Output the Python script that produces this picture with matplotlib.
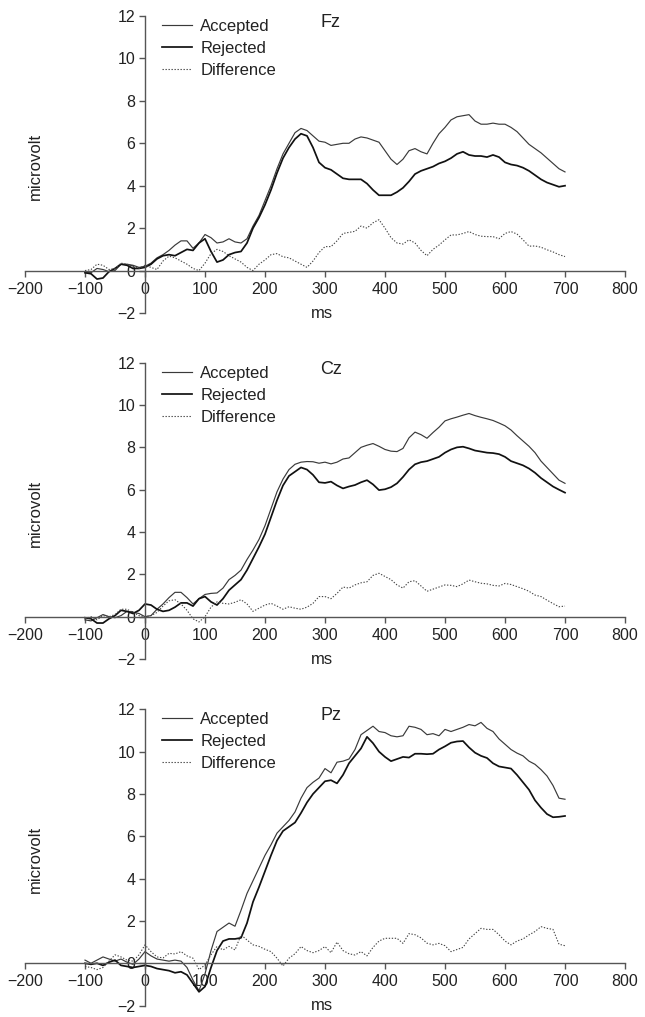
import numpy as np
import matplotlib
matplotlib.use("Agg")
import matplotlib.pyplot as plt

plt.rcParams['font.family'] = ['Liberation Sans', 'DejaVu Sans']

ms = list(range(-100, 701, 10))

fz_accepted = [-0.1, -0.1, 0.1, 0.05, -0.05, 0.0, 0.3, 0.3, 0.25, 0.15,
               0.2, 0.35, 0.6, 0.75, 0.95, 1.2, 1.4, 1.4, 1.05, 1.3,
               1.7, 1.55, 1.3, 1.35, 1.5, 1.35, 1.3, 1.5, 2.1, 2.6,
               3.3, 4.0, 4.8, 5.5, 6.0, 6.5, 6.7, 6.6, 6.35, 6.1,
               6.05, 5.9, 5.95, 6.0, 6.0, 6.2, 6.3, 6.25, 6.15, 6.05,
               5.65, 5.25, 5.0, 5.25, 5.65, 5.75, 5.6, 5.5, 6.0, 6.45,
               6.75, 7.1, 7.25, 7.3, 7.35, 7.05, 6.9, 6.9, 6.95, 6.9,
               6.9, 6.75, 6.55, 6.25, 5.95, 5.75, 5.55, 5.3, 5.05, 4.8,
               4.65]
fz_rejected = [-0.1, -0.15, -0.4, -0.35, -0.05, 0.1, 0.3, 0.25, 0.1, 0.1,
               0.15, 0.3, 0.55, 0.7, 0.75, 0.7, 0.85, 1.0, 0.95, 1.3,
               1.5, 0.9, 0.4, 0.5, 0.75, 0.85, 0.9, 1.3, 2.0, 2.5,
               3.1, 3.8, 4.6, 5.3, 5.8, 6.2, 6.45, 6.35, 5.8, 5.1,
               4.85, 4.75, 4.55, 4.35, 4.3, 4.3, 4.3, 4.1, 3.8, 3.55,
               3.55, 3.55, 3.7, 3.9, 4.2, 4.55, 4.7, 4.8, 4.9, 5.05,
               5.15, 5.3, 5.5, 5.6, 5.45, 5.4, 5.4, 5.35, 5.45, 5.35,
               5.1, 5.0, 4.95, 4.85, 4.7, 4.5, 4.3, 4.15, 4.05, 3.95,
               4.0]
fz_difference = [0.0, 0.05, 0.3, 0.25, 0.05, 0.1, 0.35, 0.3, 0.2, 0.1,
                 0.25, 0.15, 0.05, 0.45, 0.68, 0.6, 0.45, 0.3, 0.1, 0.0,
                 0.35, 0.8, 1.0, 0.9, 0.7, 0.55, 0.4, 0.15, 0.0, 0.3,
                 0.5, 0.75, 0.8, 0.65, 0.6, 0.45, 0.3, 0.15, 0.45, 0.85,
                 1.13, 1.13, 1.4, 1.75, 1.8, 1.85, 2.1, 2.0, 2.25, 2.4,
                 2.0, 1.55, 1.3, 1.25, 1.45, 1.3, 0.95, 0.7, 1.0, 1.2,
                 1.45, 1.68, 1.68, 1.75, 1.84, 1.7, 1.62, 1.6, 1.6, 1.5,
                 1.75, 1.84, 1.72, 1.45, 1.15, 1.16, 1.1, 0.98, 0.88, 0.75,
                 0.66]

cz_accepted = [-0.15, -0.2, -0.05, 0.1, 0.0, -0.05, 0.05, 0.25, 0.2, 0.15,
               0.0, 0.05, 0.35, 0.6, 0.9, 1.15, 1.15, 0.9, 0.6, 0.85,
               1.05, 1.1, 1.12, 1.35, 1.75, 1.95, 2.2, 2.7, 3.15, 3.65,
               4.3, 5.1, 5.9, 6.5, 6.95, 7.2, 7.3, 7.33, 7.32, 7.25,
               7.3, 7.22, 7.3, 7.45, 7.5, 7.75, 8.0, 8.1, 8.18, 8.05,
               7.9, 7.82, 7.8, 7.95, 8.45, 8.72, 8.6, 8.43, 8.7, 8.95,
               9.25, 9.35, 9.43, 9.52, 9.6, 9.5, 9.42, 9.35, 9.27, 9.15,
               9.02, 8.82, 8.55, 8.3, 8.05, 7.75, 7.35, 7.05, 6.75, 6.45,
               6.3]
cz_rejected = [-0.05, -0.1, -0.3, -0.3, -0.1, 0.05, 0.3, 0.25, 0.15, 0.3,
               0.6, 0.55, 0.35, 0.25, 0.3, 0.45, 0.65, 0.65, 0.5, 0.85,
               0.95, 0.7, 0.55, 0.85, 1.25, 1.5, 1.75, 2.2, 2.75, 3.3,
               3.9, 4.7, 5.5, 6.2, 6.65, 6.85, 7.05, 6.95, 6.7, 6.35,
               6.32, 6.38, 6.2, 6.06, 6.15, 6.22, 6.35, 6.45, 6.25, 5.98,
               6.02, 6.12, 6.3, 6.6, 6.95, 7.2, 7.3, 7.35, 7.45, 7.55,
               7.75, 7.9, 8.0, 8.03, 7.95, 7.85, 7.8, 7.75, 7.73, 7.68,
               7.55, 7.35, 7.25, 7.15, 7.0, 6.8, 6.55, 6.35, 6.15, 6.0,
               5.86]
cz_difference = [-0.1, 0.0, -0.15, 0.05, 0.0, 0.1, 0.35, 0.35, 0.2, 0.05,
                 0.0, 0.05, 0.2, 0.5, 0.75, 0.8, 0.6, 0.3, -0.1, -0.25,
                 0.0, 0.45, 0.7, 0.63, 0.6, 0.68, 0.8, 0.6, 0.25, 0.4,
                 0.55, 0.63, 0.5, 0.35, 0.47, 0.4, 0.35, 0.45, 0.63, 0.95,
                 0.95, 0.85, 1.1, 1.4, 1.35, 1.5, 1.6, 1.65, 1.95, 2.05,
                 1.9, 1.75, 1.5, 1.35, 1.65, 1.7, 1.45, 1.2, 1.3, 1.4,
                 1.5, 1.48, 1.42, 1.55, 1.73, 1.65, 1.58, 1.55, 1.48, 1.45,
                 1.57, 1.52, 1.42, 1.32, 1.2, 1.02, 0.95, 0.78, 0.62, 0.47,
                 0.5]

pz_accepted = [0.15, 0.0, 0.15, 0.3, 0.2, 0.1, 0.2, 0.05, -0.05, 0.2,
               0.55, 0.35, 0.2, 0.15, 0.1, 0.15, 0.1, -0.2, -0.8, -1.3,
               -0.5, 0.6, 1.5, 1.7, 1.9, 1.75, 2.5, 3.3, 3.9, 4.5,
               5.1, 5.6, 6.15, 6.45, 6.75, 7.15, 7.8, 8.3, 8.55, 8.75,
               9.2, 9.0, 9.5, 9.55, 9.65, 10.1, 10.8, 11.0, 11.2, 10.95,
               10.9, 10.75, 10.7, 10.75, 11.2, 11.15, 11.05, 10.8, 10.85, 10.75,
               11.05, 10.95, 11.05, 11.15, 11.28, 11.22, 11.38, 11.1, 10.95, 10.6,
               10.35, 10.1, 9.93, 9.8, 9.55, 9.4, 9.15, 8.85, 8.4, 7.8,
               7.75]
pz_rejected = [0.0, -0.05, 0.0, -0.1, 0.05, 0.15, -0.1, -0.15, -0.2, -0.15,
               -0.1, -0.15, -0.25, -0.3, -0.35, -0.45, -0.4, -0.55, -0.95, -1.35,
               -1.1, -0.2, 0.6, 1.05, 1.15, 1.15, 1.2, 1.9, 2.9, 3.6,
               4.35, 5.1, 5.8, 6.25, 6.45, 6.65, 7.1, 7.6, 8.0, 8.3,
               8.6, 8.65, 8.5, 8.9, 9.45, 9.8, 10.15, 10.7, 10.4, 10.0,
               9.75, 9.55, 9.65, 9.75, 9.72, 9.9, 9.9, 9.88, 9.9, 10.1,
               10.25, 10.42, 10.48, 10.5, 10.2, 9.95, 9.8, 9.7, 9.45, 9.3,
               9.25, 9.2, 8.9, 8.55, 8.2, 7.7, 7.35, 7.05, 6.9, 6.92,
               6.96]
pz_difference = [-0.15, -0.2, -0.3, -0.2, 0.1, 0.4, 0.3, 0.15, 0.1, 0.4,
                 0.87, 0.55, 0.3, 0.25, 0.47, 0.44, 0.55, 0.35, 0.24, -0.3,
                 -0.08, 0.4, 0.8, 0.63, 0.8, 0.63, 1.34, 1.1, 0.87, 0.8,
                 0.66, 0.55, 0.24, -0.13, 0.24, 0.45, 0.79, 0.6, 0.5, 0.6,
                 0.79, 0.5, 1.0, 0.6, 0.45, 0.39, 0.55, 0.35, 0.75, 1.05,
                 1.18, 1.18, 1.18, 0.94, 1.4, 1.35, 1.2, 0.95, 0.87, 0.94,
                 0.83, 0.55, 0.65, 0.75, 1.15, 1.4, 1.65, 1.6, 1.6, 1.35,
                 1.05, 0.87, 1.05, 1.15, 1.34, 1.5, 1.73, 1.65, 1.6, 0.9,
                 0.83]

electrodes = ["Fz", "Cz", "Pz"]
series_labels = ["Accepted", "Rejected", "Difference"]
x_ticks = [-200, -100, 0, 100, 200, 300, 400, 500, 600, 700, 800]
y_ticks = [-2, 0, 2, 4, 6, 8, 10, 12]

panels = [
    (fz_accepted, fz_rejected, fz_difference),
    (cz_accepted, cz_rejected, cz_difference),
    (pz_accepted, pz_rejected, pz_difference),
]

W, H = 645, 1017
fig = plt.figure(figsize=(W / 100, H / 100), dpi=100)

# axes pixel boxes: (top px of y=12, bottom px of y=-2)
boxes = [(16, 313), (362.7, 659), (709.3, 1005.6)]
left_px, right_px = 25, 625

text_color = "#222222"
axis_color = "#555555"

for (acc, rej, diff), name, (top, bot) in zip(panels, electrodes, boxes):
    ax = fig.add_axes([left_px / W, 1 - bot / H, (right_px - left_px) / W, (bot - top) / H])
    ax.set_xlim(-200, 800)
    ax.set_ylim(-2, 12)
    ax.spines['top'].set_visible(False)
    ax.spines['right'].set_visible(False)
    ax.spines['left'].set_position(('data', 0))
    ax.spines['bottom'].set_position(('data', 0))
    for s in ('left', 'bottom'):
        ax.spines[s].set_color(axis_color)
        ax.spines[s].set_linewidth(1.0)
    ax.set_xticks(x_ticks)
    ax.set_yticks(y_ticks)
    ax.tick_params(axis='both', direction='out', length=4, width=1.0,
                   color=axis_color, labelsize=11.5, labelcolor=text_color)
    ax.tick_params(axis='x', pad=4)
    ax.tick_params(axis='y', pad=3)

    l1, = ax.plot(ms, acc, color="#3a3a3a", lw=0.85, label=series_labels[0])
    l2, = ax.plot(ms, rej, color="#111111", lw=1.25, label=series_labels[1])
    l3, = ax.plot(ms, diff, color="#444444", lw=0.8, linestyle=(0, (1.2, 1.5)),
                  label=series_labels[2])

    ax.text(292, 11.7, name, fontsize=13, color=text_color, ha='left', va='center')
    ax.text(-183, 4.9, "microvolt", fontsize=12, color=text_color, rotation=90,
            ha='center', va='center')
    ax.text(295, -2.0, "ms", fontsize=12, color=text_color, ha='center', va='center')

    ax.legend(handles=[l1, l2, l3], loc='upper left', bbox_to_anchor=(0.228, 0.99),
              frameon=False, fontsize=12, handlelength=1.8, handletextpad=0.5,
              labelspacing=0.42, borderpad=0, borderaxespad=0,
              labelcolor=text_color)

fig.savefig("out.png", dpi=100)
